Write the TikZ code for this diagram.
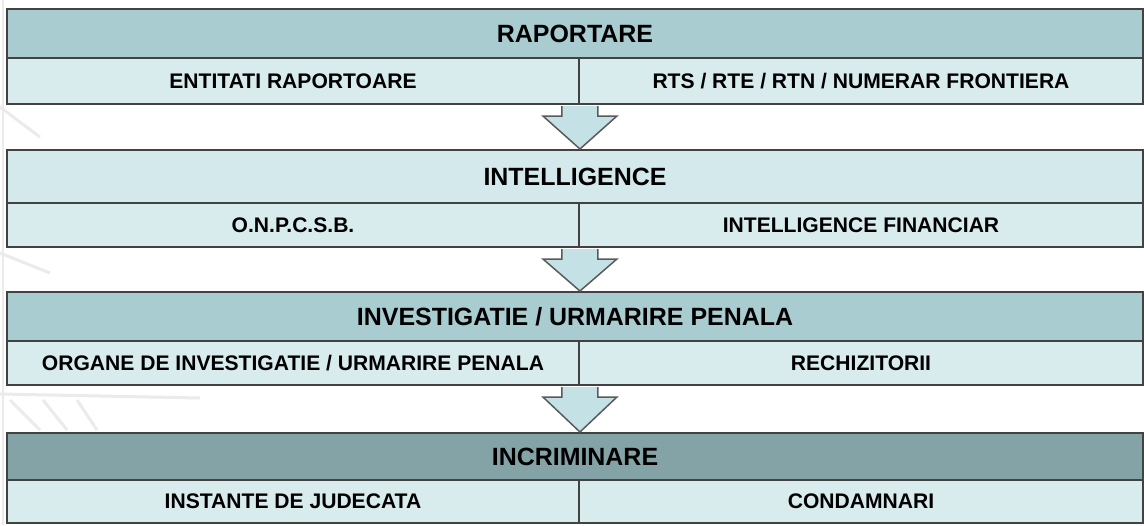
\documentclass[tikz,border=0pt]{standalone}
\usepackage{fontspec}
\setmainfont{Liberation Sans}
\usepackage{xcolor}
\usepackage{tikz}
\usetikzlibrary{positioning, calc}

\definecolor{edgegray}{RGB}{66,66,66}
\definecolor{headteal}{RGB}{169,204,208}
\definecolor{headlight}{RGB}{212,233,235}
\definecolor{headdark}{RGB}{132,163,166}
\definecolor{subfill}{RGB}{216,235,237}
\definecolor{arrowfill}{RGB}{196,225,229}
\definecolor{arrowgray}{RGB}{90,90,90}

\begin{document}
\begin{tikzpicture}[x=0.02cm,y=-0.02cm]
	\tikzstyle{cell}=[draw=edgegray, line width=0.04cm, inner sep=0pt, text depth=0pt, fill=subfill, font=\bfseries\fontsize{12}{14}\selectfont]
	\tikzstyle{head}=[cell, minimum width=22.72cm, font=\bfseries\fontsize{14.2}{16}\selectfont]
	\tikzstyle{lcell}=[cell, minimum width=11.44cm]
	\tikzstyle{rcell}=[cell, minimum width=11.28cm]
	\tikzstyle{flowarrow}=[draw=arrowgray, line width=0.03cm, fill=arrowfill, line join=miter]
	\tikzstyle{backline}=[black!8, line width=0.06cm]
	\useasboundingbox[fill=white] (0,0) rectangle (1144,525);
	% faint lines of the background
	\draw[backline] (3,0) -- (3,525);
	\draw[backline] (0,107) -- (40,137);
	\draw[backline] (0,253) -- (50,273);
	\draw[backline] (0,394) -- (200,398);
	\draw[backline] (10,400) -- (40,430);
	\draw[backline] (43,400) -- (67,430);
	\draw[backline] (77,400) -- (97,430);
	% stages
	\node[head, fill=headteal, minimum height=0.98cm](h1) at (575,33.5){RAPORTARE};
	\node[lcell, minimum height=0.92cm](l1) at (293,81){ENTITATI RAPORTOARE};
	\node[rcell, minimum height=0.92cm](r1) at (861,81){RTS / RTE / RTN / NUMERAR FRONTIERA};
	\node[head, fill=headlight, minimum height=1.06cm](h2) at (575,176.5){INTELLIGENCE};
	\node[lcell, minimum height=0.88cm](l2) at (293,225){O.N.P.C.S.B.};
	\node[rcell, minimum height=0.88cm](r2) at (861,225){INTELLIGENCE FINANCIAR};
	\node[head, fill=headteal, minimum height=0.98cm](h3) at (575,316.5){INVESTIGATIE / URMARIRE PENALA};
	\node[lcell, minimum height=0.88cm](l3) at (293,363){ORGANE DE INVESTIGATIE / URMARIRE PENALA};
	\node[rcell, minimum height=0.88cm](r3) at (861,363){RECHIZITORII};
	\node[head, fill=headdark, minimum height=0.94cm](h4) at (575,456.5){INCRIMINARE};
	\node[lcell, minimum height=0.86cm](l4) at (293,501.5){INSTANTE DE JUDECATA};
	\node[rcell, minimum height=0.86cm](r4) at (861,501.5){CONDAMNARI};
	% arrows between stages
	\foreach \a/\b in {l1/h2, l2/h3, l3/h4}
		\draw[flowarrow] ($(\a.south east)+(-18,1)$) -- ($(\a.south east)+(-18,11)$) -- ($(\a.south east)+(-37,11)$)
			-- (\a.south east |- \b.north) -- ($(\a.south east)+(37,11)$) -- ($(\a.south east)+(18,11)$) -- ($(\a.south east)+(18,1)$);
\end{tikzpicture}
\end{document}
